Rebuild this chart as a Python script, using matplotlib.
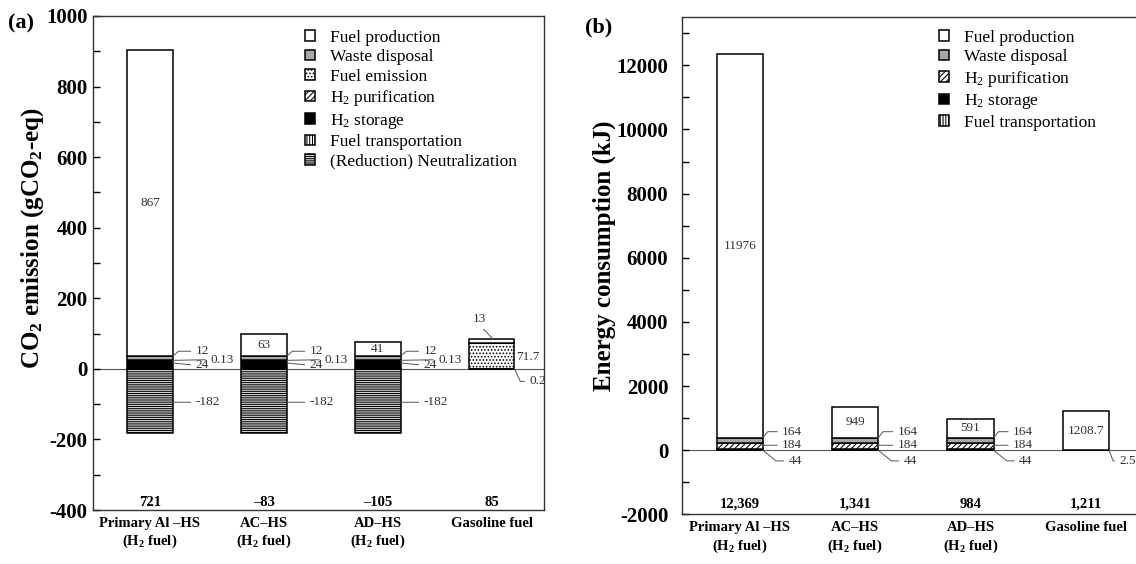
import numpy as np
import matplotlib
matplotlib.use('Agg')
import matplotlib.pyplot as plt

plt.rcParams['font.family'] = 'Liberation Serif'
plt.rcParams['mathtext.fontset'] = 'custom'
plt.rcParams['mathtext.rm'] = 'Liberation Serif'
plt.rcParams['mathtext.bf'] = 'Liberation Serif:bold'
plt.rcParams['mathtext.it'] = 'Liberation Serif:italic'
plt.rcParams['axes.unicode_minus'] = False
plt.rcParams['hatch.linewidth'] = 0.75

# categorie
categorie = ['Primary Al \u2013HS\n(H$_\\mathbf{2}$ fuel)', 'AC\u2013HS\n(H$_\\mathbf{2}$ fuel)',
             'AD\u2013HS\n(H$_\\mathbf{2}$ fuel)', 'Gasoline fuel']

# (a) CO2 emission (gCO2-eq)
co2_transport = [0, 0, 0, 0.2]
co2_storage = [24, 24, 24, 0]
co2_purification = [0.13, 0.13, 0.13, 0]
co2_emission = [0, 0, 0, 71.7]
co2_waste = [12, 12, 12, 0]
co2_production = [867, 63, 41, 13]
co2_neutral = [-182, -182, -182, 0]
co2_total = ['721', '\u201383', '\u2013105', '85']

# (b) energy consumption (kJ)
en_transport = [0, 0, 0, 2.5]
en_storage = [44, 44, 44, 0]
en_purification = [184, 184, 184, 0]
en_waste = [164, 164, 164, 0]
en_production = [11976, 949, 591, 1208.7]
en_total = ['12,369', '1,341', '984', '1,211']

# stile di ogni componente
stili = {
    'Fuel production': dict(color='white'),
    'Waste disposal': dict(color='#a8a8a8'),
    'Fuel emission': dict(color='white', hatch='.....'),
    'H$_2$ purification': dict(color='white', hatch='//////'),
    'H$_2$ storage': dict(color='black'),
    'Fuel transportation': dict(color='white', hatch='||||||'),
    '(Reduction) Neutralization': dict(color='white', hatch='---------'),
}

x = np.arange(len(categorie))
w = 0.4
grigio = '#333333'
fs_small = 9.5


def impila(ax, strati):
    base = np.zeros(len(x))
    basi = {}
    barre = {}
    for nome, valori in strati:
        valori = np.array(valori, dtype=float)
        basi[nome] = base.copy()
        barre[nome] = ax.bar(x, valori, w, bottom=base, edgecolor='black', linewidth=1.1,
                             label=nome, zorder=2, **stili[nome])
        base = base + valori
    return barre, basi


def nota(ax, xy, testo, off, conn='arc3', rel=(0, 0.5), ha='left'):
    ax.annotate(testo, xy=xy, xytext=off, textcoords='offset points', ha=ha, va='center',
                fontsize=fs_small, color=grigio,
                arrowprops=dict(arrowstyle='-', color='#555555', lw=0.7, connectionstyle=conn,
                                relpos=rel, shrinkA=1.5, shrinkB=0))


def assi(ax, lim, pad):
    ax.set_xlim(lim[0], lim[1])
    ax.set_xticks(x)
    ax.set_xticklabels(categorie, fontweight='bold', fontsize=10.5, linespacing=1.25)
    ax.tick_params(axis='x', length=0, pad=5)
    ax.tick_params(axis='y', which='both', direction='in', length=5, width=1, labelsize=15, pad=pad)
    for t in ax.get_yticklabels():
        t.set_fontweight('bold')
    ax.axhline(0, color='#555555', lw=0.8, zorder=1)
    for s in ax.spines.values():
        s.set_linewidth(1.0)
        s.set_color('#333333')


fig = plt.figure(figsize=(11.36, 5.64), dpi=100)

# ---------------- (a) ----------------
ax1 = fig.add_axes([0.0819, 0.0957, 0.397, 0.876])
strati_a = [('Fuel transportation', co2_transport), ('H$_2$ storage', co2_storage),
            ('H$_2$ purification', co2_purification), ('Fuel emission', co2_emission),
            ('Waste disposal', co2_waste), ('Fuel production', co2_production)]
barre_a, basi_a = impila(ax1, strati_a)
barre_a['(Reduction) Neutralization'] = ax1.bar(x, co2_neutral, w, edgecolor='black', linewidth=1.1,
                                                label='(Reduction) Neutralization', zorder=2,
                                                **stili['(Reduction) Neutralization'])
ax1.set_ylim(-400, 1000)
ax1.set_yticks(np.arange(-400, 1001, 200))
ax1.set_yticks(np.arange(-400, 1001, 100), minor=True)
assi(ax1, (-0.5, 3.46), 4)
ax1.set_ylabel('CO$_\\mathbf{2}$ emission (gCO$_\\mathbf{2}$-eq)', fontsize=18, fontweight='bold')
ax1.yaxis.set_label_coords(-0.105, 0.55)

bordo = x + w / 2
for i in range(3):
    cima = basi_a['Fuel production'][i]
    ax1.text(x[i], cima + co2_production[i] / 2, str(co2_production[i]), ha='center', va='center',
             fontsize=fs_small, color=grigio, zorder=3)
    nota(ax1, (bordo[i], cima), str(co2_waste[i]), (16.5, 3.5), 'angle,angleA=0,angleB=40,rad=0')
    nota(ax1, (bordo[i], basi_a['H$_2$ purification'][i] + co2_purification[i]),
         str(co2_purification[i]), (27, 0.5))
    nota(ax1, (bordo[i], co2_storage[i] * 0.7), str(co2_storage[i]), (16.5, -1.7))
    nota(ax1, (bordo[i], co2_neutral[i] * 0.52), str(co2_neutral[i]), (16.5, 0))

# benzina
top_g = basi_a['Fuel production'][3] + co2_production[3]
nota(ax1, (x[3] + 0.01, top_g), str(co2_production[3]), (-9.4, 14.4), rel=(0.5, 0), ha='center')
ax1.annotate(str(co2_emission[3]), xy=(bordo[3], co2_emission[3] * 0.45), xytext=(1.5, 0),
             textcoords='offset points', ha='left', va='center', fontsize=fs_small, color=grigio)
nota(ax1, (bordo[3], 0), str(co2_transport[3]), (10.8, -9), 'angle,angleA=0,angleB=-65,rad=0')

for i, t in enumerate(co2_total):
    ax1.text(x[i], 0.016, t, transform=ax1.get_xaxis_transform(), ha='center', va='center',
             fontsize=10.5, fontweight='bold')

ordine_a = ['Fuel production', 'Waste disposal', 'Fuel emission', 'H$_2$ purification',
            'H$_2$ storage', 'Fuel transportation', '(Reduction) Neutralization']
ax1.legend([barre_a[n] for n in ordine_a], ordine_a, loc='upper left', bbox_to_anchor=(0.47, 0.972),
           frameon=False, fontsize=12.5, handlelength=0.55, handleheight=0.55, handletextpad=0.9,
           labelspacing=0.2, borderpad=0, borderaxespad=0)

# ---------------- (b) ----------------
ax2 = fig.add_axes([0.6004, 0.088, 0.4063, 0.8815])
strati_b = [('Fuel transportation', en_transport), ('H$_2$ storage', en_storage),
            ('H$_2$ purification', en_purification), ('Waste disposal', en_waste),
            ('Fuel production', en_production)]
barre_b, basi_b = impila(ax2, strati_b)
ax2.set_ylim(-2000, 13500)
ax2.set_yticks(np.arange(-2000, 12001, 2000))
ax2.set_yticks(np.arange(-2000, 13001, 1000), minor=True)
assi(ax2, (-0.5, 3.5), 10)
ax2.set_ylabel('Energy consumption (kJ)', fontsize=18, fontweight='bold')
ax2.yaxis.set_label_coords(-0.143, 0.52)

for i in range(4):
    cima = basi_b['Fuel production'][i]
    v = en_production[i]
    ax2.text(x[i], cima + v / 2, str(int(v)) if v % 1 == 0 else str(v),
             ha='center', va='center', fontsize=fs_small, color=grigio, zorder=3)
for i in range(3):
    cima = basi_b['Fuel production'][i]
    nota(ax2, (bordo[i], cima), str(en_waste[i]), (13.9, 4.3), 'angle,angleA=0,angleB=50,rad=0')
    nota(ax2, (bordo[i], basi_b['H$_2$ purification'][i] + en_purification[i] * 0.6),
         str(en_purification[i]), (13.9, 0))
    nota(ax2, (bordo[i], 0), str(en_storage[i]), (18.4, -7.7), 'angle,angleA=0,angleB=-39,rad=0')
nota(ax2, (bordo[3], 0), str(en_transport[3]), (7.5, -7.7), 'angle,angleA=0,angleB=-69,rad=0')

for i, t in enumerate(en_total):
    ax2.text(x[i], 0.02, t, transform=ax2.get_xaxis_transform(), ha='center', va='center',
             fontsize=10.5, fontweight='bold')

ordine_b = ['Fuel production', 'Waste disposal', 'H$_2$ purification', 'H$_2$ storage',
            'Fuel transportation']
ax2.legend([barre_b[n] for n in ordine_b], ordine_b, loc='upper left', bbox_to_anchor=(0.557, 0.975),
           frameon=False, fontsize=12.5, handlelength=0.55, handleheight=0.55, handletextpad=0.9,
           labelspacing=0.2, borderpad=0, borderaxespad=0)

fig.text(0.007, 0.959, '(a)', fontsize=16, fontweight='bold', va='center')
fig.text(0.515, 0.952, '(b)', fontsize=16, fontweight='bold', va='center')

fig.savefig('out.png', dpi=100)
